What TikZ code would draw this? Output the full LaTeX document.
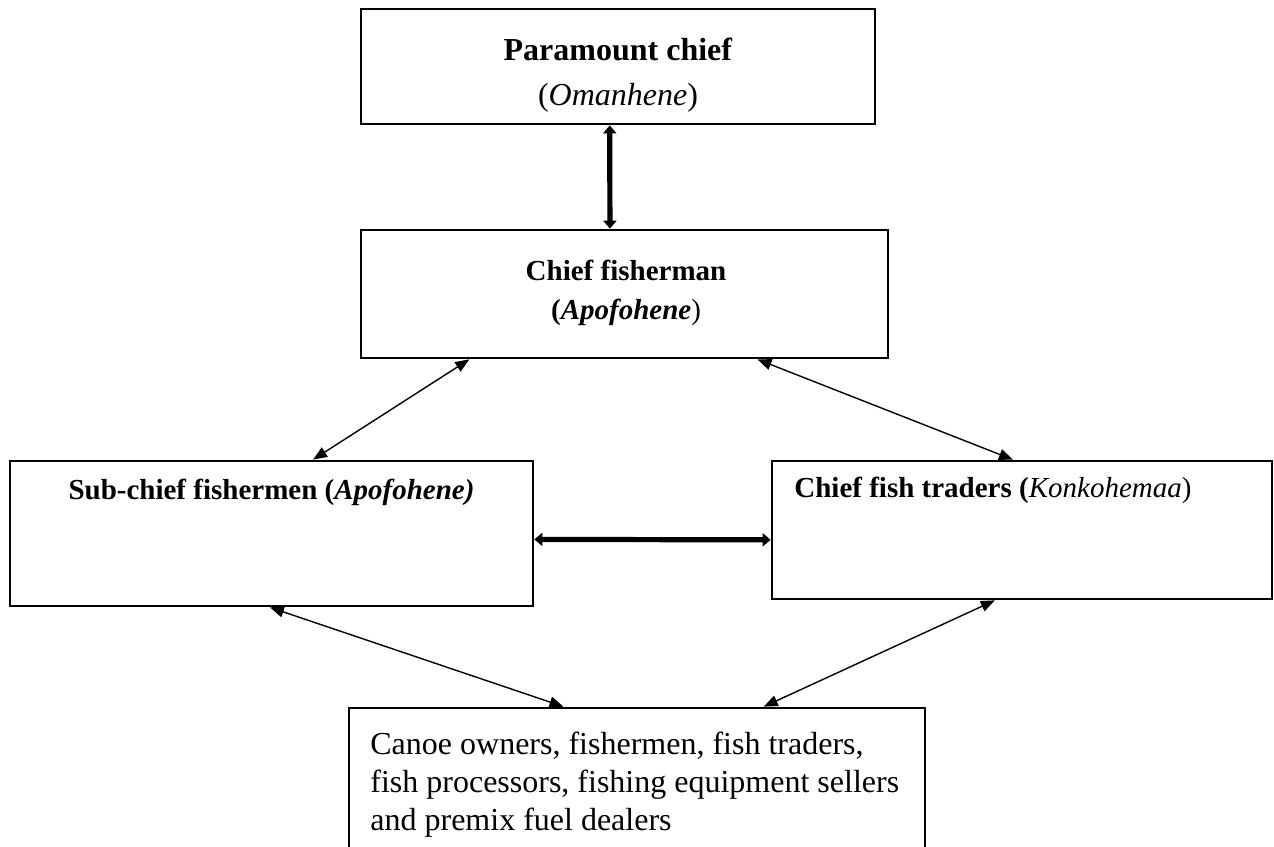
\documentclass[tikz,border=0pt]{standalone}
\usepackage{fontspec}
\setmainfont{Liberation Serif}
\usepackage{tikz}
\usetikzlibrary{calc}
\usetikzlibrary{arrows.meta}

\tikzset{
  box/.style={draw, line width=1.35pt, rectangle, inner sep=0pt},
  thinarrow/.style={line width=0.7pt, {Triangle[length=7pt,width=5.5pt]}-{Triangle[length=7pt,width=5.5pt]}},
  thickarrow/.style={line width=2.6pt, {Triangle[length=4pt,width=6.5pt]}-{Triangle[length=4pt,width=6.5pt]}},
  bigtext/.style={font=\fontsize{16}{22.5}\selectfont, inner sep=0pt},
  midtext/.style={font=\fontsize{14.5}{19.5}\selectfont\bfseries, inner sep=0pt}
}

\begin{document}
\begin{tikzpicture}[x=0.5pt,y=-0.5pt]
    \useasboundingbox (0,0) rectangle (1274,846);
    % Kaesten
    \node[box, minimum width=257pt, minimum height=57.5pt] (pc) at (618,66.5) {};
    \node[box, minimum width=263.5pt, minimum height=64pt] (cf) at (624.5,294) {};
    \node[box, minimum width=261.5pt, minimum height=72.5pt] (sub) at (271.5,533.5) {};
    \node[box, minimum width=250pt, minimum height=69pt] (ft) at (1022,530) {};
    \node[box, minimum width=288pt, minimum height=96pt] (grp) at (637,804) {};
    % Texte
    \node[bigtext, align=center] (pctext) at (618,75) {\textbf{Paramount chief}\\(\textit{Omanhene})};
    \node[midtext, align=center] (cftext) at (626,293) {Chief fisherman\\(\textit{Apofohene}\mdseries)};
    \node[midtext] (subtext) at (271.5,492) {Sub-chief fishermen (\textit{Apofohene)}};
    \node[midtext, anchor=west] (fttext) at (794,490) {Chief fish traders (\mdseries\textit{Konkohemaa})};
    \node[bigtext, align=left, anchor=north west, font=\fontsize{16}{19}\selectfont] (grptext) at (370,732)
      {Canoe owners, fishermen, fish traders,\\fish processors, fishing equipment sellers\\and premix fuel dealers};
    % Pfeile dick
    \draw[thickarrow] ($(pc.south west)!0.484!(pc.south east)$) -- ($(cf.north west)!0.4725!(cf.north east)$);
    \draw[thickarrow] ($(sub.north east)!0.54!(sub.south east)$) -- ($(ft.north west)!0.57!(ft.south west)$);
    % Pfeile duenn
    \draw[thinarrow] ($(cf.south west)!0.207!(cf.south east)$) -- ($(sub.north west)!0.579!(sub.north east)$);
    \draw[thinarrow] ($(cf.south west)!0.751!(cf.south east)$) -- ($(ft.north west)!0.482!(ft.north east)$);
    \draw[thinarrow] ($(sub.south west)!0.497!(sub.south east)$) -- ($(grp.north west)!0.373!(grp.north east)$);
    \draw[thinarrow] ($(ft.south west)!0.446!(ft.south east)$) -- ($(grp.north west)!0.719!(grp.north east)$);
\end{tikzpicture}
\end{document}
